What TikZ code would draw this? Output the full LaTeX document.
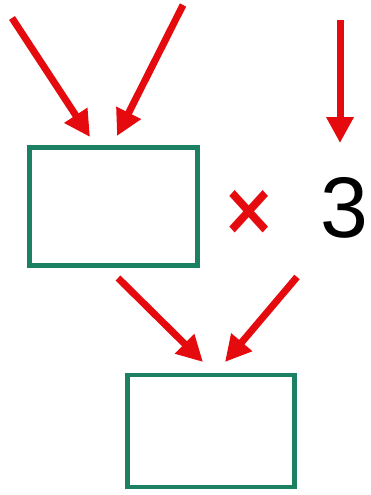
\documentclass[tikz,border=0pt]{standalone}
\usepackage{fontspec}
\setmainfont{Liberation Sans}
\newfontfamily\timesglyph{DejaVu Sans}
\usetikzlibrary{arrows.meta}
\definecolor{boxgreen}{RGB}{28,128,98}
\definecolor{arrred}{RGB}{228,10,14}
\tikzset{
  box/.style={draw=boxgreen, line width=4.5pt, minimum width=168pt, minimum height=118pt, inner sep=0pt},
  redarrow/.style={draw=arrred, line width=7pt, -{Triangle[length=26pt,width=26pt]}}
}
\begin{document}
\begin{tikzpicture}[x=1pt,y=1pt]
\useasboundingbox (0,0) rectangle (370,-495);
\node[box] (b1) at (113.5,-206.5) {};
\node[box, minimum width=167pt, minimum height=112pt] (b2) at (211,-431) {};
\node[text=arrred, font=\timesglyph\bfseries\fontsize{66}{66}\selectfont, inner sep=0pt, yscale=1.1] (times) at (249,-212) {×};
\node[font=\fontsize{86}{86}\selectfont, inner sep=0pt] (three) at (344,-208) {3};
\coordinate (t1) at (12,-18);
\coordinate (t2) at (183,-5);
\coordinate (t3) at (340,-20);
\coordinate (t4) at (118,-278);
\coordinate (t5) at (297,-277);
\coordinate (h1) at (90,-137);
\coordinate (h2) at (117,-136);
\coordinate (h3) at (340,-143);
\coordinate (h4) at (203,-362);
\coordinate (h5) at (225,-362);
\draw[redarrow] (t1) -- (h1);
\draw[redarrow] (t2) -- (h2);
\draw[redarrow] (t3) -- (h3);
\draw[redarrow] (t4) -- (h4);
\draw[redarrow] (t5) -- (h5);
\end{tikzpicture}
\end{document}
